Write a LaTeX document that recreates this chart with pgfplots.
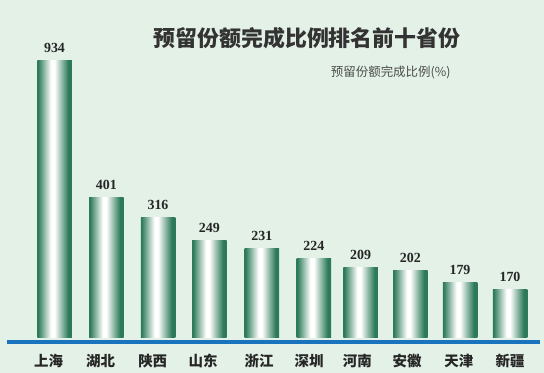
\documentclass[border=0pt]{standalone}
\usepackage{pgfplots}
\pgfplotsset{compat=1.18}
\usepackage{fontspec}
\setmainfont{Liberation Serif}
\newfontfamily\cjk{Noto Sans CJK SC}
\definecolor{bg}{HTML}{E3F1E6}
\definecolor{bargreen}{HTML}{2C7A59}
\definecolor{baseblue}{HTML}{1A73BD}
\pgfdeclarehorizontalshading{barshade}{100bp}{color(0bp)=(bargreen); color(26bp)=(bargreen); color(45bp)=(white); color(50bp)=(white); color(70bp)=(bargreen); color(100bp)=(bargreen)}
\begin{document}
\begin{tikzpicture}
\begin{axis}[
  scale only axis, width=544bp, height=373bp,
  xmin=0, xmax=544, ymin=-36, ymax=337,
  axis background/.style={fill=bg},
  axis line style={draw=none}, tick style={draw=none}, ymajorticks=false,
  xtick={48.6,100.6,152.7,203,259,309,357.4,407,458.8,510},
  xticklabels={上海,湖北,陕西,山东,浙江,深圳,河南,安徽,天津,新疆},
  xticklabel style={font=\cjk\bfseries\fontsize{14.5}{14.5}\selectfont, text=black!85, anchor=center, yshift=16bp},
  ybar, bar width=34.5, bar shift=0pt,
  nodes near coords, point meta=explicit symbolic,
  nodes near coords style={font=\bfseries\fontsize{14}{14}\selectfont, text=black!85, anchor=center, yshift=13bp},
  every axis plot/.append style={draw=none, shading=barshade},
  clip=false,
]
\addplot coordinates {(54.5,276) [934]};
\addplot coordinates {(106.3,139) [401]};
\addplot coordinates {(158,119) [316]};
\addplot coordinates {(209.4,96) [249]};
\addplot coordinates {(261.9,88.3) [231]};
\addplot coordinates {(313.8,78.3) [224]};
\addplot coordinates {(360.7,69) [209]};
\addplot coordinates {(410.3,66) [202]};
\addplot coordinates {(460,54.3) [179]};
\addplot coordinates {(510,47) [170]};
\fill[baseblue] (axis cs:7,-3) rectangle (axis cs:540,-7);
\node[font=\cjk\bfseries\fontsize{22}{22}\selectfont, text=black!80] at (axis cs:307,299) {预留份额完成比例排名前十省份};
\node[font=\cjk\fontsize{12.5}{12.5}\selectfont, text=black!70, anchor=east] at (axis cs:454,264.5) {预留份额完成比例(\%)};
\end{axis}
\pgfresetboundingbox
\path[use as bounding box] (current axis.south west) rectangle (current axis.north east);
\end{tikzpicture}
\end{document}
